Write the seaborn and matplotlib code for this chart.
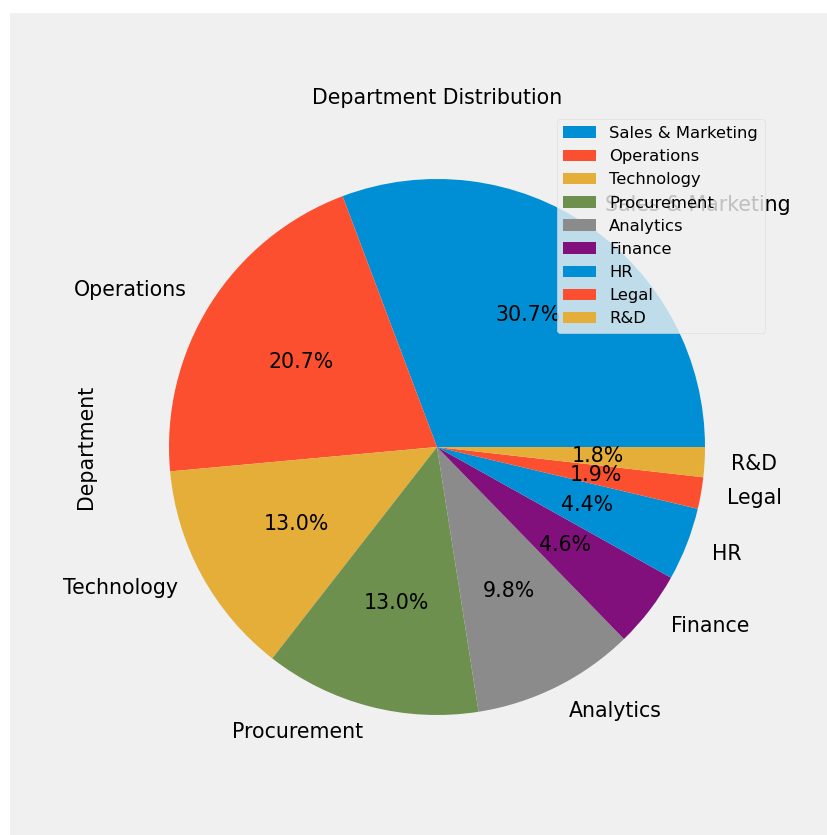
import matplotlib
matplotlib.use("Agg")
import matplotlib.pyplot as plt
from matplotlib.patches import Rectangle
import seaborn as sns

# Department headcount shares (percent)
departments = ["Sales & Marketing", "Operations", "Technology", "Procurement",
               "Analytics", "Finance", "HR", "Legal", "R&D"]
shares = [30.7, 20.7, 13.0, 13.0, 9.8, 4.6, 4.4, 1.9, 1.8]

plt.style.use("fivethirtyeight")
sns.set_palette(["#008fd5", "#fc4f30", "#e5ae38", "#6d904f", "#8b8b8b", "#810f7c"])
palette = sns.color_palette(n_colors=6)
colors = [palette[i % len(palette)] for i in range(len(departments))]

fig = plt.figure(figsize=(8.27, 8.35), dpi=100, facecolor="white")
fig.patches.append(Rectangle((10 / 827, 0), 1 - 10 / 827 + 0.01, 1 - 13 / 835,
                             transform=fig.transFigure, facecolor="#f0f0f0",
                             edgecolor="none", zorder=-1))

ax = fig.add_axes([102 / 827, 53 / 835, 670 / 827, 670 / 835])
ax.set_facecolor("#f0f0f0")

wedges, texts, autotexts = ax.pie(
    shares, labels=departments, colors=colors, autopct="%1.1f%%",
    startangle=0, counterclock=True,
    wedgeprops=dict(linewidth=0),
    textprops=dict(fontsize=14.8, color="black"),
)

ax.set_title("Department Distribution", fontsize=14.8, pad=6)
ax.set_ylabel("Department", fontsize=14.8, labelpad=4)

leg = ax.legend(wedges, departments, loc="upper right", fontsize=11.8,
                framealpha=0.8, fancybox=True, borderaxespad=0.45)
leg.get_frame().set_facecolor("#f0f0f0")
leg.get_frame().set_edgecolor("#dcdcdc")

fig.savefig("out.png", dpi=100, facecolor=fig.get_facecolor(), edgecolor="none")
